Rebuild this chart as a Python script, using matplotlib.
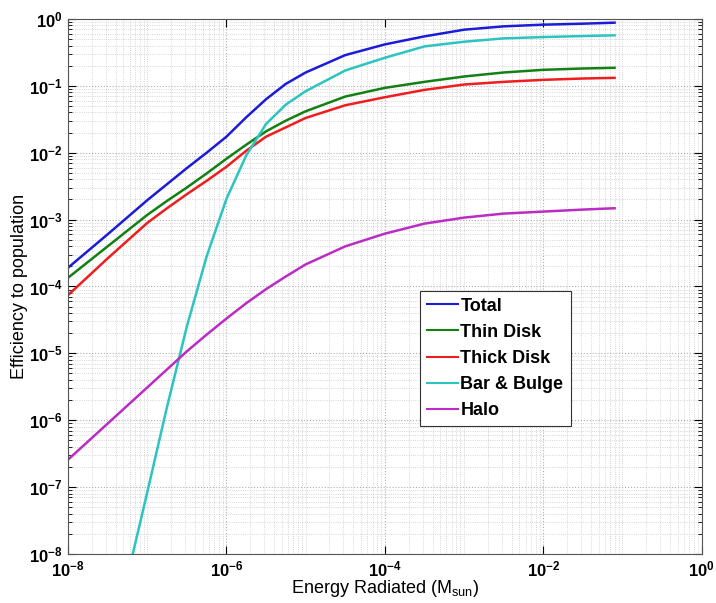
import numpy as np
import matplotlib
matplotlib.use('Agg')
from matplotlib import pyplot as plt
from matplotlib.ticker import LogLocator, FixedLocator, FuncFormatter, NullFormatter

plt.rcParams['font.family'] = ['Liberation Sans', 'DejaVu Sans']
plt.rcParams['mathtext.fontset'] = 'custom'
plt.rcParams['mathtext.rm'] = 'Liberation Sans'
plt.rcParams['mathtext.bf'] = 'Liberation Sans:bold'
plt.rcParams['mathtext.it'] = 'Liberation Sans:italic'

# energy radiated (log10 M_sun) and efficiencies (log10)
log_energy = [-8.0, -7.5, -7.0, -6.75, -6.5, -6.25, -6.0, -5.75, -5.5, -5.25,
              -5.0, -4.5, -4.0, -3.5, -3.0, -2.5, -2.0, -1.5, -1.1]
log_total = [-3.72, -3.22, -2.71, -2.47, -2.23, -2.00, -1.76, -1.47, -1.20, -0.97,
             -0.80, -0.54, -0.38, -0.26, -0.16, -0.11, -0.085, -0.07, -0.055]
log_thin = [-3.87, -3.40, -2.93, -2.72, -2.52, -2.31, -2.09, -1.88, -1.68, -1.52,
            -1.38, -1.16, -1.03, -0.94, -0.86, -0.80, -0.76, -0.74, -0.73]
log_thick = [-4.13, -3.58, -3.05, -2.83, -2.62, -2.42, -2.21, -1.97, -1.76, -1.62,
             -1.48, -1.29, -1.17, -1.06, -0.98, -0.94, -0.91, -0.89, -0.88]
log_bulge = [-11.2, -9.6, -7.08, -5.80, -4.60, -3.55, -2.69, -2.04, -1.57, -1.28,
             -1.08, -0.77, -0.58, -0.41, -0.34, -0.29, -0.27, -0.255, -0.244]
log_halo = [-6.59, -6.05, -5.51, -5.24, -4.97, -4.72, -4.48, -4.25, -4.04, -3.85,
            -3.67, -3.40, -3.21, -3.06, -2.97, -2.91, -2.88, -2.85, -2.83]

labels = ['Total', 'Thin Disk', 'Thick Disk', 'Bar & Bulge', 'Halo']
colors = ['#1c1cd8', '#138013', '#ee1e1e', '#2cc4c0', '#bb2cc4']

energy = 10.0 ** np.array(log_energy)
series = [log_total, log_thin, log_thick, log_bulge, log_halo]

fig = plt.figure(figsize=(7.16, 6.03), dpi=100)
ax = fig.add_axes([0.095, 0.0813, 0.885, 0.8872])

for vals, lab, col in zip(series, labels, colors):
    ax.loglog(energy, 10.0 ** np.array(vals), color=col, lw=1.8, label=lab)

ax.set_xlim(1e-8, 1)
ax.set_ylim(1e-8, 1)

# matlab-like ticks and grid
ax.yaxis.set_major_locator(LogLocator(base=10, numticks=20))
ax.yaxis.set_minor_locator(LogLocator(base=10, subs=np.arange(2, 10), numticks=20))
ax.xaxis.set_major_locator(FixedLocator([1e-8, 1e-6, 1e-4, 1e-2, 1]))
ax.xaxis.set_minor_locator(LogLocator(base=10, subs=np.arange(1, 10), numticks=20))
ax.xaxis.set_minor_formatter(NullFormatter())
ax.yaxis.set_minor_formatter(NullFormatter())

fmt = FuncFormatter(lambda v, p: r'$\mathbf{10^{%d}}$' % int(round(np.log10(v))))
ax.xaxis.set_major_formatter(fmt)
ax.yaxis.set_major_formatter(fmt)

ax.tick_params(which='both', direction='in', top=True, right=True, labelsize=12)
ax.tick_params(which='major', length=6, width=0.8)
ax.tick_params(which='minor', length=3, width=0.6)
ax.tick_params(axis='x', which='minor', length=0)
ax.tick_params(axis='x', which='major', pad=4)
ax.tick_params(axis='y', which='major', pad=4)

ax.grid(True, which='major', linestyle=':', color='#b0b0b0', lw=0.8)
ax.grid(True, which='minor', linestyle=':', color='#c8c8c8', lw=0.6)
for sp in ax.spines.values():
    sp.set_color('#555555')

ax.set_xlabel(r'Energy Radiated (M$_{\mathrm{sun}}$)', fontsize=13, labelpad=-1)
ax.set_ylabel('Efficiency to population', fontsize=13)
ax.yaxis.set_label_coords(-0.063, 0.5)

leg = ax.legend(loc='lower left', bbox_to_anchor=(0.555, 0.239), borderaxespad=0,
                fancybox=False, framealpha=1, edgecolor='#333333',
                prop={'weight': 'bold', 'size': 13}, handlelength=1.7,
                handletextpad=0.15, labelspacing=0.5, borderpad=0.4)
leg.get_frame().set_linewidth(0.8)
for line in leg.get_lines():
    line.set_linewidth(1.5)

fig.savefig('out.png', dpi=100)
